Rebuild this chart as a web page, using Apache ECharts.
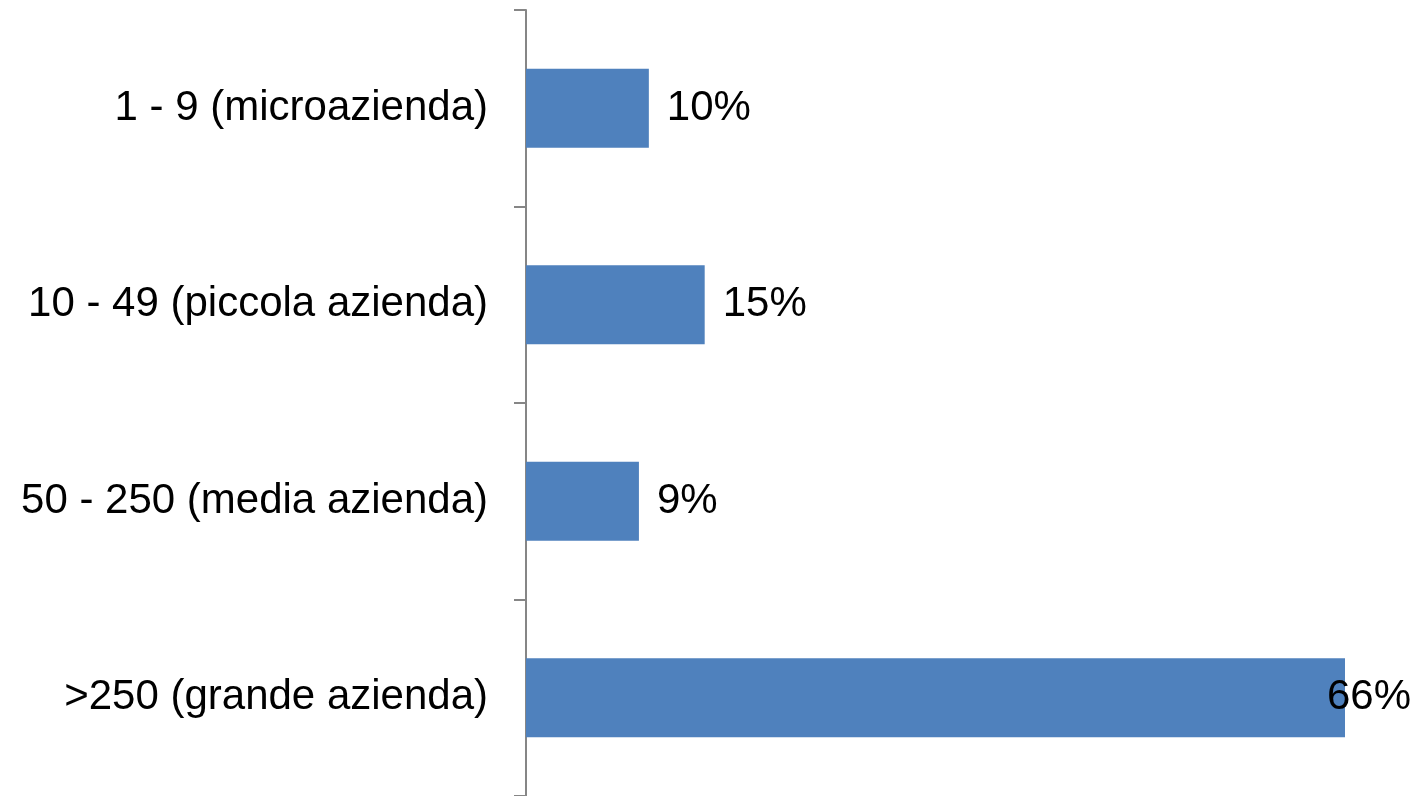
<!DOCTYPE html>
<html>
<head>
<meta charset="utf-8">
<script src="https://cdn.jsdelivr.net/npm/echarts@6/dist/echarts.min.js"></script>
<style>
  html, body { margin: 0; padding: 0; background: #fff; }
  #chart { width: 1423px; height: 796px; }
</style>
</head>
<body>
<div id="chart"></div>
<script>
const categories = ["1 - 9 (microazienda)", "10 - 49 (piccola azienda)", "50 - 250 (media azienda)", ">250 (grande azienda)"];
const shares = [9.9, 14.4, 9.1, 66.0];
const shareLabels = ["10%", "15%", "9%", "66%"];

const BAR = "#4f81bd";
const AXIS = "#868686";
const FONT = "'Liberation Sans', Arial, sans-serif";

const chart = echarts.init(document.getElementById("chart"), null, { renderer: "canvas" });

chart.setOption({
  animation: false,
  grid: { left: 526, right: 78, top: 10, bottom: 0, containLabel: false },
  xAxis: { type: "value", min: 0, max: 66, show: false },
  yAxis: {
    type: "category",
    inverse: true,
    data: categories,
    axisLine: { show: true, lineStyle: { color: AXIS, width: 2 } },
    axisTick: { show: true, inside: false, length: 12, alignWithLabel: false, lineStyle: { color: AXIS, width: 2 } },
    axisLabel: { margin: 38, color: "#000", fontSize: 42, fontFamily: FONT, padding: [8, 0, 0, 0] },
  },
  series: [{
    type: "bar",
    barWidth: 79,
    itemStyle: { color: BAR },
    data: shares.map((v, i) => ({
      value: v,
      label: i === shares.length - 1 ? { offset: [-36, 0] } : undefined,
    })),
    label: {
      show: true,
      position: "right",
      distance: 18,
      color: "#000",
      fontSize: 42,
      fontFamily: FONT,
      padding: [8, 0, 0, 0],
      formatter: (p) => shareLabels[p.dataIndex],
    },
  }],
});
</script>
</body>
</html>
